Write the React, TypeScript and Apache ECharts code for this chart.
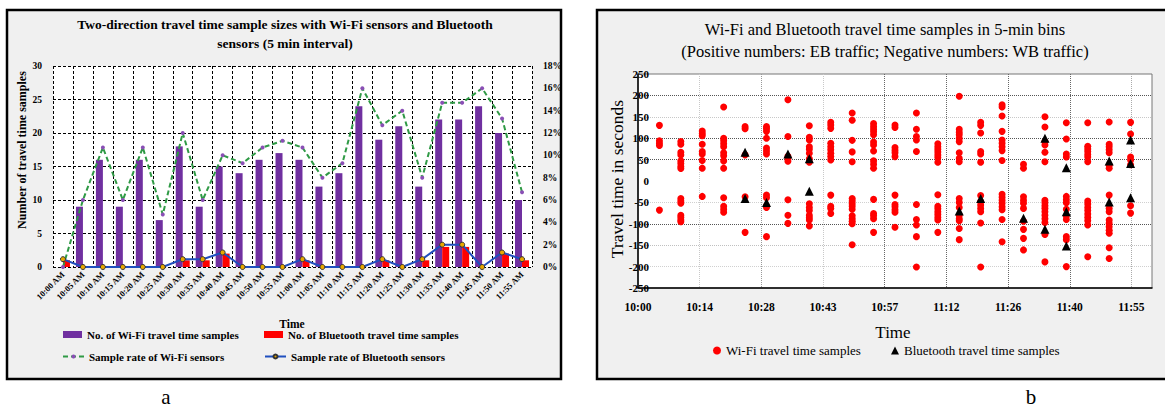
import React, { useEffect, useRef } from "react";
import * as echarts from "echarts";

// ---------- Panel a data ----------
const categoriesA = [
  "10:00 AM", "10:05 AM", "10:10 AM", "10:15 AM", "10:20 AM", "10:25 AM",
  "10:30 AM", "10:35 AM", "10:40 AM", "10:45 AM", "10:50 AM", "10:55 AM",
  "11:00 AM", "11:05 AM", "11:10 AM", "11:15 AM", "11:20 AM", "11:25 AM",
  "11:30 AM", "11:35 AM", "11:40 AM", "11:45 AM", "11:50 AM", "11:55 AM",
];
const wifiCounts = [0, 9, 16, 9, 16, 7, 18, 9, 15, 14, 16, 17, 16, 12, 14, 24, 19, 21, 12, 22, 22, 24, 20, 10];
const btCounts = [1, 0, 0, 0, 0, 0, 1, 1, 2, 0, 0, 0, 1, 0, 0, 0, 1, 0, 1, 3, 3, 0, 2, 1];
const wifiRate = [0, 6, 10.7, 6, 10.7, 4.7, 12, 6, 10, 9.3, 10.7, 11.3, 10.7, 8, 9.3, 16, 12.7, 14, 8, 14.7, 14.7, 16, 13.3, 6.7];
const btRate = [0.7, 0, 0, 0, 0, 0, 0.7, 0.7, 1.3, 0, 0, 0, 0.7, 0, 0, 0, 0.7, 0, 0.7, 2, 2, 0, 1.3, 0.7];

// ---------- Panel b data ----------
const binTimes = [
  "10:05", "10:10", "10:15", "10:20", "10:25", "10:30", "10:35", "10:40",
  "10:45", "10:50", "10:55", "11:00", "11:05", "11:10", "11:15", "11:20",
  "11:25", "11:30", "11:35", "11:40", "11:45", "11:50", "11:55",
];
const wifiSamples = [
  [130, 94, 88, 83, -68],
  [92, 86, 67, 61, 47, 41, 34, 29, -41, -47, -52, -80, -85, -91, -95],
  [117, 111, 106, 86, 69, 63, 48, 30, -36],
  [173, 100, 94, 87, 80, 66, 59, 47, 30, -39, -59, -66, -73],
  [127, 122, 61, -37, -120],
  [127, 122, 116, 100, 77, 70, 63, -33, -39, -58, -62, -130],
  [190, 104, 58, 52, 46, -44, -80, -99],
  [129, 102, 96, 80, 74, 65, 52, 44, -53, -62, -69, -80, -86, -91, -105],
  [137, 131, 123, 88, 80, 73, 65, 57, 49, -33, -59, -64, -76],
  [159, 142, 95, 68, 45, -41, -47, -53, -59, -66, -81, -88, -94, -100, -149],
  [134, 127, 121, 115, 108, 91, 84, 70, 47, 39, 30, -43, -76, -81, -88, -120],
  [131, 125, 78, 72, 66, 57, -33, -55, -60, -67, -73, -108],
  [159, 121, 104, 96, 69, -55, -90, -103, -130, -201],
  [87, 80, 74, 68, 61, 55, 44, -32, -59, -65, -72, -78, -85, -91, -120],
  [198, 121, 114, 108, 100, 92, 66, 53, 45, -41, -50, -62, -80, -88, -93, -111, -137],
  [137, 130, 112, 69, 63, 44, -34, -48, -56, -64, -72, -98, -201],
  [178, 173, 152, 116, 96, 88, 80, 71, 48, -31, -38, -45, -52, -60, -67, -90, -142],
  [39, 30, -37, -45, -52, -64, -94, -113, -134, -161],
  [150, 126, 92, 84, 67, 45, -45, -51, -58, -64, -72, -80, -88, -97, -125, -189],
  [136, 98, 63, 56, -36, -44, -51, -66, -82, -90, -130, -137, -200],
  [136, 81, 75, 69, 62, 56, 45, -47, -54, -62, -69, -77, -85, -93, -103, -177],
  [138, 86, 80, 73, 66, 37, 30, -33, -64, -72, -91, -99, -107, -115, -122, -156, -181],
  [137, 110, 56, 49, 38, -58, -75],
];
const btSamples = [
  [], [], [], [], [67, -41], [-50], [63], [52, -24],
  [], [], [], [], [], [], [-70], [-41],
  [], [-87], [100, -113], [31, -72, -152], [], [47, -49], [96, 41, -39],
];

const SERIF = "Liberation Serif";

const toMin = (t: string) => {
  const [h, m] = t.split(":").map(Number);
  return (h - 10) * 60 + m;
};
const timeLabel = (v: number) => {
  if (v >= 119.99) return "";
  const m = Math.floor(v + 1e-6);
  const h = 10 + Math.floor(m / 60);
  return `${h}:${String(m % 60).padStart(2, "0")}`;
};

export default function App() {
  const ref = useRef<HTMLDivElement>(null);
  useEffect(() => {
    if (!ref.current) return;
    const chart = echarts.init(ref.current, null, { renderer: "svg" });

    const wifiData = binTimes.flatMap((t, i) => wifiSamples[i].map((v) => [toMin(t), v]));
    const btData = binTimes.flatMap((t, i) => btSamples[i].map((v) => [toMin(t), v]));

    const boldA = { fontFamily: SERIF, fontWeight: "bold" as const, color: "#000" };
    const txt = (x: number, y: number, text: string, font: string, rotation = 0) => ({
      type: "text", x, y, rotation,
      style: { text, font, fill: "#000", textAlign: "center", textVerticalAlign: "middle" },
    });

    const option: any = {
      animation: false,
      graphic: {
        elements: [
          { type: "rect", z: -10, shape: { x: 7, y: 10, width: 554, height: 369 }, style: { fill: "#f0f0f0", stroke: "#000", lineWidth: 2.5 } },
          { type: "rect", z: -10, shape: { x: 597, y: 10, width: 590, height: 369 }, style: { fill: "#f0f0f0", stroke: "#000", lineWidth: 2.5 } },
          txt(285, 24, "Two-direction travel time sample sizes with Wi-Fi sensors and Bluetooth", `bold 13.5px ${SERIF}`),
          txt(285, 43, "sensors (5 min interval)", `bold 13.5px ${SERIF}`),
          txt(22, 150, "Number of travel time samples", `bold 12px ${SERIF}`, Math.PI / 2),
          txt(292, 324, "Time", `bold 11.5px ${SERIF}`),
          txt(885, 29, "Wi-Fi and Bluetooth travel time samples in 5-min bins", `16.5px ${SERIF}`),
          txt(885, 51, "(Positive numbers: EB traffic; Negative numbers: WB traffic)", `16.5px ${SERIF}`),
          txt(617, 179, "Travel time in seconds", `17.5px ${SERIF}`, Math.PI / 2),
          txt(893, 332, "Time", `17px ${SERIF}`),
          txt(166, 397, "a", `21px ${SERIF}`),
          txt(1031, 397, "b", `21px ${SERIF}`),
        ],
      },
      grid: [
        { left: 53, top: 66, width: 479, height: 201, show: true, backgroundColor: "#fff", borderWidth: 0 },
        { left: 638, top: 74, width: 514, height: 214, show: true, backgroundColor: "#fff", borderColor: "#777", borderWidth: 1 },
      ],
      xAxis: [
        {
          gridIndex: 0, type: "category", data: categoriesA, boundaryGap: true,
          axisLine: { show: false }, axisTick: { show: false },
          axisLabel: { ...boldA, fontSize: 8.5, rotate: 45, margin: 6, interval: 0 },
          splitLine: { show: true, interval: 0, lineStyle: { color: "#000", type: [3, 2], width: 1 } },
        },
        {
          gridIndex: 1, type: "value", min: 0, max: 120, interval: 14.4,
          axisLine: { onZero: false, lineStyle: { color: "#000", width: 1.5 } },
          axisTick: { show: false },
          axisLabel: { ...boldA, fontSize: 11.5, margin: 13, formatter: timeLabel, showMaxLabel: false },
          splitLine: {
            show: true,
            lineStyle: { type: "dotted", width: 1, color: ["rgba(0,0,0,0)", "#c8c8c8", "#999", "#c8c8c8", "#666", "#666", "#666", "#666", "#aaa", "rgba(0,0,0,0)"] },
          },
        },
      ],
      yAxis: [
        {
          gridIndex: 0, type: "value", min: 0, max: 30, interval: 5,
          axisLine: { show: false }, axisTick: { show: false },
          axisLabel: { ...boldA, fontSize: 9.5, margin: 11 },
          splitLine: { show: true, lineStyle: { color: "#000", type: [3, 2], width: 1 } },
        },
        {
          gridIndex: 0, type: "value", min: 0, max: 18, interval: 2, position: "right",
          axisLine: { show: false }, axisTick: { show: false },
          axisLabel: { ...boldA, fontSize: 9.5, margin: 11, formatter: "{value}%" },
          splitLine: { show: false },
        },
        {
          gridIndex: 1, type: "value", min: -250, max: 250, interval: 50,
          axisLine: { show: true, onZero: false, lineStyle: { color: "#000", width: 1.5 } },
          axisTick: { show: false },
          axisLabel: { ...boldA, fontSize: 11, margin: -11 },
          splitLine: {
            show: true,
            lineStyle: {
              type: "dotted", width: 1,
              color: ["rgba(0,0,0,0)", "#d0d0d0", "#c0c0c0", "#555", "#d0d0d0", "rgba(0,0,0,0)", "#555", "#555", "#c8c8c8", "#555", "rgba(0,0,0,0)"],
            },
          },
        },
      ],
      legend: [
        { data: ["No. of Wi-Fi travel time samples"], left: 63, top: 329, padding: 0, icon: "rect", itemWidth: 19, itemHeight: 7, selectedMode: false, textStyle: { ...boldA, fontSize: 11 } },
        { data: ["No. of Bluetooth travel time samples"], left: 264, top: 329, padding: 0, icon: "rect", itemWidth: 19, itemHeight: 7, selectedMode: false, textStyle: { ...boldA, fontSize: 11 } },
        { data: ["Sample rate of Wi-Fi sensors"], left: 62, top: 351, padding: 0, itemWidth: 21, itemHeight: 5, selectedMode: false, textStyle: { ...boldA, fontSize: 11 } },
        { data: ["Sample rate of Bluetooth sensors"], left: 264, top: 351, padding: 0, itemWidth: 21, itemHeight: 5, selectedMode: false, textStyle: { ...boldA, fontSize: 11 } },
        { data: ["Wi-Fi travel time samples"], left: 713, top: 344, padding: 0, icon: "circle", itemWidth: 8, itemHeight: 8, selectedMode: false, textStyle: { fontFamily: SERIF, fontSize: 13, color: "#000" } },
        { data: ["Bluetooth travel time samples"], left: 891, top: 344, padding: 0, icon: "triangle", itemWidth: 8, itemHeight: 8, selectedMode: false, textStyle: { fontFamily: SERIF, fontSize: 13, color: "#000" } },
      ],
      series: [
        { name: "No. of Wi-Fi travel time samples", type: "bar", xAxisIndex: 0, yAxisIndex: 0, data: wifiCounts, barWidth: 7, barGap: "0%", itemStyle: { color: "#7030a0" } },
        { name: "No. of Bluetooth travel time samples", type: "bar", xAxisIndex: 0, yAxisIndex: 0, data: btCounts, barWidth: 7, barGap: "0%", itemStyle: { color: "#ff0000" } },
        {
          name: "Sample rate of Wi-Fi sensors", type: "line", xAxisIndex: 0, yAxisIndex: 1, data: wifiRate,
          lineStyle: { color: "#2f9a45", type: [5, 3], width: 2 }, symbol: "circle", symbolSize: 4,
          itemStyle: { color: "#8a4fb5" }, z: 4,
        },
        {
          name: "Sample rate of Bluetooth sensors", type: "line", xAxisIndex: 0, yAxisIndex: 1, data: btRate,
          lineStyle: { color: "#1f4fbf", width: 2 }, symbol: "circle", symbolSize: 5,
          itemStyle: { color: "#e8a800", borderColor: "#333", borderWidth: 1 }, z: 5,
        },
        { name: "Wi-Fi travel time samples", type: "scatter", xAxisIndex: 1, yAxisIndex: 2, data: wifiData, symbol: "circle", symbolSize: 7, itemStyle: { color: "#ff0000", opacity: 1 } },
        { name: "Bluetooth travel time samples", type: "scatter", xAxisIndex: 1, yAxisIndex: 2, data: btData, symbol: "triangle", symbolSize: 9, itemStyle: { color: "#000", opacity: 1 }, z: 5 },
      ],
    };
    chart.setOption(option);
    return () => chart.dispose();
  }, []);
  return <div ref={ref} style={{ position: "absolute", left: 0, top: 0, width: 1165, height: 410 }} />;
}
